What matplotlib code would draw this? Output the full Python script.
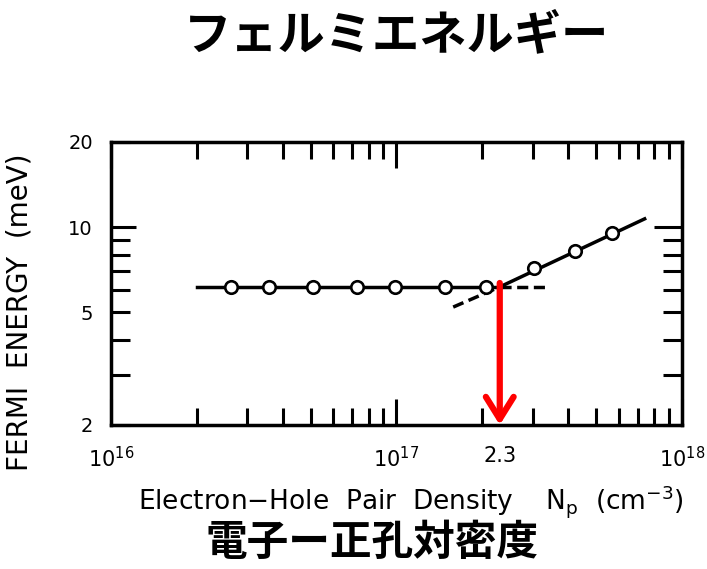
import numpy as np
import matplotlib
matplotlib.use("Agg")
import matplotlib.pyplot as plt
from matplotlib.ticker import FixedLocator, FixedFormatter, NullFormatter

# measured points: pair density Np (cm^-3) vs Fermi energy (meV)
np_flat = [2.64e16, 3.59e16, 5.09e16, 7.28e16, 9.89e16, 1.48e17, 2.06e17]
ef_flat = [6.15, 6.15, 6.15, 6.15, 6.15, 6.15, 6.15]
np_rise = [3.04e17, 4.22e17, 5.71e17]
ef_rise = [7.18, 8.22, 9.50]

# guide lines through the points
flat_x = [2.0e16, 2.3e17]
flat_y = [6.15, 6.15]
rise_x = [2.3e17, 7.4e17]
rise_y = [6.15, 10.7]
flat_dash_x = [2.3e17, 3.4e17]
flat_dash_y = [6.15, 6.15]
rise_dash_x = [1.58e17, 2.3e17]
rise_dash_y = [5.22, 6.15]

n_cross = 2.3e17
arrow_top = 6.35

x_ticks = [1e16, 1e17, 2.3e17, 1e18]
x_ticklabels = [r'$10^{16}$', r'$10^{17}$', '2.3', r'$10^{18}$']
x_minor = [k * 10.0**e for e in (16, 17) for k in range(2, 10)]
y_ticks = [2, 5, 10, 20]
y_ticklabels = ['2', '5', '10', '20']
y_minor = [3, 4, 6, 7, 8, 9]

plt.rcParams['font.family'] = ['DejaVu Sans']

fig = plt.figure(figsize=(7.07, 5.69), dpi=100)
ax = fig.add_axes([0.157, 0.2531, 0.8076, 0.4974])

ax.plot(flat_x, flat_y, color='black', lw=2.5, zorder=2)
ax.plot(rise_x, rise_y, color='black', lw=2.5, zorder=2)
ax.plot(flat_dash_x, flat_dash_y, color='black', lw=2.5, dashes=(3.2, 1.6), zorder=2)
ax.plot(rise_dash_x, rise_dash_y, color='black', lw=2.5, dashes=(3.2, 1.6), zorder=2)
ax.plot(np_flat, ef_flat, 'o', ms=9, mfc='white', mec='black', mew=1.9, zorder=3)
ax.plot(np_rise, ef_rise, 'o', ms=9, mfc='white', mec='black', mew=1.9, zorder=3)

# red arrow marking the crossing density
ax.annotate('', xy=(n_cross, 2.0), xytext=(n_cross, arrow_top),
            arrowprops=dict(arrowstyle='->,head_length=0.8,head_width=0.5',
                            color='red', lw=4.5, mutation_scale=20,
                            shrinkA=0, shrinkB=0), zorder=5)

ax.set_xscale('log')
ax.set_yscale('log')
ax.set_xlim(1e16, 1e18)
ax.set_ylim(2, 20)

ax.xaxis.set_major_locator(FixedLocator(x_ticks))
ax.xaxis.set_major_formatter(FixedFormatter(x_ticklabels))
ax.xaxis.set_minor_locator(FixedLocator(x_minor))
ax.xaxis.set_minor_formatter(NullFormatter())
ax.yaxis.set_major_locator(FixedLocator(y_ticks))
ax.yaxis.set_major_formatter(FixedFormatter(y_ticklabels))
ax.yaxis.set_minor_locator(FixedLocator(y_minor))
ax.yaxis.set_minor_formatter(NullFormatter())

ax.tick_params(axis='both', which='both', direction='in', top=True, right=True,
               width=2.2, color='black')
ax.tick_params(axis='x', which='major', length=18.5, labelsize=15, pad=15)
ax.tick_params(axis='x', which='minor', length=12)
ax.tick_params(axis='y', which='major', length=14, labelsize=14, pad=13)
ax.tick_params(axis='y', which='minor', length=14)

for sp in ax.spines.values():
    sp.set_linewidth(2.5)

# no tick mark under the "2.3" label, longer mark at 10 meV
fig.canvas.draw()
t23 = ax.xaxis.get_major_ticks()[2]
t23.tick1line.set_visible(False)
t23.tick2line.set_visible(False)
t10 = ax.yaxis.get_major_ticks()[2]
t10.tick1line.set_markersize(18)
t10.tick2line.set_markersize(20)

ax.set_xlabel(r'Electron$-$Hole  Pair  Density    N$_\mathrm{p}$  (cm$^{-3}$)',
              fontsize=19)
ax.xaxis.set_label_coords(0.525, -0.205)
ax.set_ylabel('FERMI  ENERGY  (meV)', fontsize=20)
ax.yaxis.set_label_coords(-0.135, 0.40)

fig.text(0.561, 1 - 35 / 569, 'フェルミエネルギー', fontsize=34, fontweight='bold',
         family=['Noto Sans CJK JP', 'DejaVu Sans'], ha='center', va='center')
fig.text(0.526, 1 - 543 / 569, '電子ー正孔対密度', fontsize=30, fontweight='bold',
         family=['Noto Sans CJK JP', 'DejaVu Sans'], ha='center', va='center')

fig.savefig('out.png', dpi=100)
